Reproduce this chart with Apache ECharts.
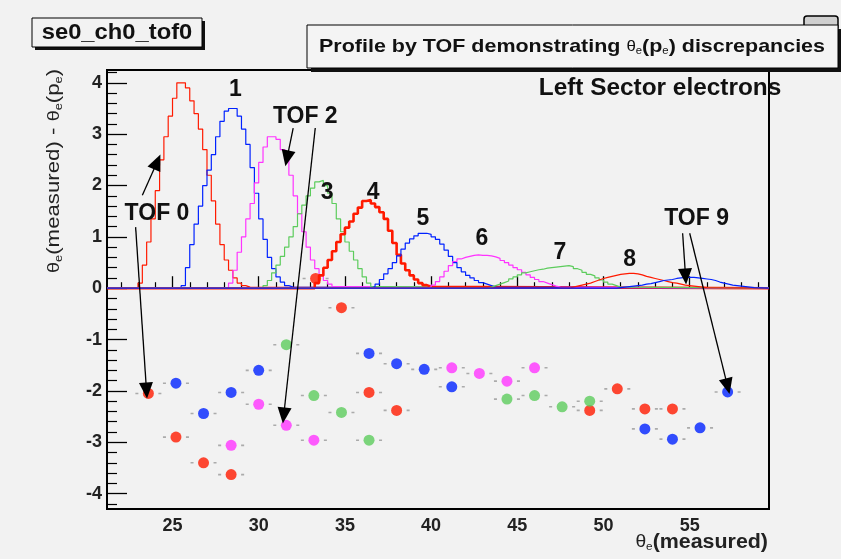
<!DOCTYPE html>
<html>
<head>
<meta charset="utf-8">
<script src="https://cdn.jsdelivr.net/npm/echarts@6/dist/echarts.min.js"></script>
<style>
  html, body { margin: 0; padding: 0; background: #f2f2f2; }
  #chart { width: 841px; height: 559px; }
</style>
</head>
<body>
<div id="chart"></div>
<script>
// axis ticks
const xTicks = [25, 30, 35, 40, 45, 50, 55];
const yTicks = [-4, -3, -2, -1, 0, 1, 2, 3, 4];

// profile histograms, bin width 0.25
const binWidth = 0.25;
const profileStarts = [23.0, 25.5, 28.25, 30.25, 33.25, 36.5, 39.75, 43.25, 48.0, 50.75];
const tof0 = [0.1, 0.45, 0.9, 1.35, 1.9, 2.5, 2.95, 3.35, 3.7, 4.0, 4.0, 3.9, 3.65, 3.4, 3.1, 2.7, 2.2, 1.7, 1.25, 0.85, 0.55, 0.35, 0.2, 0.1, 0.05, 0.02];
const tof1 = [0.05, 0.4, 0.85, 1.25, 1.6, 2.0, 2.3, 2.6, 2.95, 3.25, 3.45, 3.5, 3.5, 3.35, 3.1, 2.8, 2.35, 1.85, 1.35, 0.95, 0.6, 0.38, 0.22, 0.12, 0.05, 0.02];
const tof2 = [0.1, 0.35, 0.7, 1.0, 1.35, 1.65, 2.05, 2.45, 2.75, 2.95, 2.95, 2.9, 2.7, 2.5, 2.2, 1.8, 1.45, 1.1, 0.8, 0.55, 0.38, 0.25, 0.15, 0.08, 0.03];
const tof3 = [0.05, 0.15, 0.3, 0.45, 0.62, 0.8, 1.0, 1.2, 1.45, 1.62, 1.8, 1.95, 2.07, 2.1, 2.0, 1.85, 1.65, 1.35, 1.1, 0.9, 0.72, 0.55, 0.38, 0.22, 0.1, 0.03];
const tof4 = [0.1, 0.25, 0.4, 0.55, 0.72, 0.9, 1.05, 1.18, 1.3, 1.45, 1.57, 1.7, 1.72, 1.65, 1.58, 1.48, 1.35, 1.12, 0.88, 0.65, 0.48, 0.35, 0.25, 0.17, 0.1, 0.06, 0.03];
const tof5 = [0.03, 0.08, 0.17, 0.28, 0.38, 0.5, 0.63, 0.76, 0.88, 0.96, 1.02, 1.07, 1.07, 1.05, 1.0, 0.95, 0.86, 0.74, 0.62, 0.5, 0.4, 0.32, 0.25, 0.2, 0.15, 0.11, 0.08, 0.05, 0.02];
const tof6 = [0.02, 0.06, 0.13, 0.22, 0.33, 0.44, 0.52, 0.57, 0.6, 0.62, 0.64, 0.65, 0.64, 0.64, 0.63, 0.61, 0.58, 0.54, 0.5, 0.45, 0.4, 0.36, 0.31, 0.26, 0.21, 0.17, 0.13, 0.1, 0.07, 0.04, 0.02];
const tof7 = [0.02, 0.05, 0.08, 0.11, 0.14, 0.18, 0.22, 0.26, 0.3, 0.32, 0.34, 0.36, 0.37, 0.39, 0.4, 0.41, 0.42, 0.43, 0.44, 0.42, 0.38, 0.35, 0.31, 0.27, 0.24, 0.2, 0.16, 0.12, 0.08, 0.05, 0.02];
const tof8 = [0.02, 0.04, 0.06, 0.08, 0.1, 0.13, 0.16, 0.19, 0.21, 0.23, 0.25, 0.27, 0.28, 0.29, 0.29, 0.28, 0.26, 0.23, 0.21, 0.19, 0.17, 0.15, 0.13, 0.11, 0.1, 0.08, 0.06, 0.05, 0.04, 0.03, 0.02, 0.01];
const tof9 = [0.01, 0.02, 0.03, 0.04, 0.05, 0.06, 0.08, 0.09, 0.11, 0.13, 0.15, 0.16, 0.17, 0.19, 0.2, 0.21, 0.21, 0.21, 0.2, 0.19, 0.18, 0.17, 0.15, 0.12, 0.1, 0.08, 0.06, 0.05, 0.04, 0.03, 0.02, 0.01];
const profiles = [tof0, tof1, tof2, tof3, tof4, tof5, tof6, tof7, tof8, tof9];

// discrepancy points [theta measured, delta]
const redPoints = [[23.6, -2.05], [25.2, -2.9], [26.8, -3.4], [28.4, -3.63], [33.3, 0.19], [34.8, -0.38], [36.4, -2.03], [38.0, -2.38], [49.2, -2.38], [50.8, -1.96], [52.4, -2.35], [54.0, -2.35]];
const bluePoints = [[25.2, -1.85], [26.8, -2.44], [28.4, -2.03], [30.0, -1.6], [36.4, -1.27], [38.0, -1.47], [39.6, -1.58], [41.2, -1.92], [52.4, -2.74], [54.0, -2.94], [55.6, -2.72], [57.2, -2.02]];
const magentaPoints = [[28.4, -3.06], [30.0, -2.26], [31.6, -2.67], [33.2, -2.96], [41.2, -1.55], [42.8, -1.66], [44.4, -1.81], [46.0, -1.55]];
const greenPoints = [[31.6, -1.1], [33.2, -2.09], [34.8, -2.42], [36.4, -2.96], [44.4, -2.16], [46.0, -2.09], [47.6, -2.31], [49.2, -2.2]];

// annotations
const noteLabels = [['TOF 0', 24.1, 1.46], ['1', 28.65, 3.86], ['TOF 2', 32.7, 3.35], ['3', 33.97, 1.87], ['4', 36.64, 1.87],
  ['5', 39.53, 1.36], ['6', 42.95, 0.96], ['7', 47.47, 0.7], ['8', 51.52, 0.55], ['TOF 9', 55.4, 1.35]];
const noteArrows = [[23.25, 1.81, 24.11, 2.46], [22.86, 1.19, 23.49, -1.99], [32.0, 3.12, 31.64, 2.53], [33.28, 3.12, 31.45, -2.48],
  [54.59, 1.07, 54.76, 0.23], [55.0, 1.07, 57.2, -1.91]];

const xMin = 21.2, xMax = 59.6;
const colors = ['#ff1a00', '#0022ff', '#ff33ff', '#5ccc5c'];
const font = '"Liberation Sans", Arial, sans-serif';

const xMinor = [];
for (let v = 22; v <= 59; v++) if (v % 5) xMinor.push(v);
const yMinor = [];
for (let k = -21; k <= 21; k++) if (k % 5) yMinor.push(k / 5);

function histLine(vals, start) {
  const pts = [[xMin, 0]];
  vals.forEach((v, i) => pts.push([start + i * binWidth, v]));
  pts.push([start + vals.length * binWidth, 0]);
  pts.push([xMax, 0]);
  return pts;
}

const series = profiles.map((vals, i) => ({
  type: 'line',
  step: 'end',
  data: histLine(vals, profileStarts[i]),
  showSymbol: false,
  silent: true,
  lineStyle: { color: colors[i % 4], width: i === 4 ? 2.6 : 1.2 },
  z: 2
}));

const pointSets = [redPoints, bluePoints, magentaPoints, greenPoints];
pointSets.forEach(pts => {
  series.push({
    type: 'scatter',
    data: pts,
    symbol: 'path://M0,0h3v2h-3z M23,0h3v2h-3z',
    symbolSize: [26, 1.6],
    itemStyle: { color: '#999' },
    silent: true,
    z: 3
  });
});
pointSets.forEach((pts, i) => {
  series.push({
    type: 'scatter',
    data: pts,
    symbolSize: 11,
    itemStyle: { color: colors[i] },
    silent: true,
    z: 4
  });
});

series.push({
  type: 'scatter',
  data: [],
  silent: true,
  z: 5,
  markLine: {
    silent: true,
    animation: false,
    symbol: ['none', 'triangle'],
    symbolSize: [14, 16],
    label: { show: false },
    lineStyle: { color: '#000', width: 1.3, type: 'solid' },
    data: noteArrows.map(a => [{ coord: [a[0], a[1]] }, { coord: [a[2], a[3]] }])
  },
  markPoint: {
    silent: true,
    animation: false,
    symbolSize: 0,
    label: {
      show: true, position: 'inside', formatter: p => p.name,
      color: '#111', fontSize: 23, fontWeight: 'bold', fontFamily: font
    },
    data: noteLabels.map(n => ({ name: n[0], coord: [n[1], n[2]] }))
  }
});

const chart = echarts.init(document.getElementById('chart'));
chart.setOption({
  backgroundColor: '#f2f2f2',
  animation: false,
  grid: { left: 107, right: 72, top: 70, bottom: 50, show: true, borderColor: '#000', borderWidth: 2, backgroundColor: 'transparent' },
  xAxis: [{
    type: 'value', min: xMin, max: xMax,
    axisLine: { show: false },
    splitLine: { show: false },
    axisTick: { inside: true, length: 12, customValues: xTicks, lineStyle: { color: '#000', width: 1.3 } },
    axisLabel: { customValues: xTicks, margin: 8, fontSize: 18, fontWeight: 'bold', color: '#222', fontFamily: font }
  }, {
    type: 'value', min: xMin, max: xMax, position: 'bottom',
    axisLine: { show: false },
    splitLine: { show: false },
    axisTick: { inside: true, length: 6, customValues: xMinor, lineStyle: { color: '#000', width: 1.2 } },
    axisLabel: { show: false }
  }],
  yAxis: [{
    type: 'value', min: -4.3, max: 4.25,
    axisLine: { show: false },
    splitLine: { show: false },
    axisTick: { inside: true, length: 20, customValues: yTicks, lineStyle: { color: '#000', width: 1.3 } },
    axisLabel: { customValues: yTicks, margin: 5, fontSize: 18, fontWeight: 'bold', color: '#222', fontFamily: font }
  }, {
    type: 'value', min: -4.3, max: 4.25, position: 'left',
    axisLine: { show: false },
    splitLine: { show: false },
    axisTick: { inside: true, length: 10, customValues: yMinor, lineStyle: { color: '#000', width: 1.2 } },
    axisLabel: { show: false }
  }],
  graphic: [
    // stat box corner peeking behind the title
    { type: 'rect', shape: { x: 804, y: 16, width: 34, height: 12, r: [3, 3, 0, 0] }, style: { fill: '#cfcfcf', stroke: '#000', lineWidth: 1.5 }, z: 10 },
    // name box
    { type: 'rect', shape: { x: 35, y: 21, width: 170, height: 29 }, style: { fill: '#111' }, z: 10 },
    { type: 'rect', shape: { x: 32, y: 18, width: 170, height: 29 }, style: { fill: '#f2f2f2', stroke: '#000', lineWidth: 1 }, z: 11 },
    { type: 'text', x: 117, y: 33, scaleX: 1.08, style: { text: 'se0_ch0_tof0', font: 'bold 22px ' + font, fill: '#111', textAlign: 'center', textVerticalAlign: 'middle' }, z: 12 },
    // title box
    { type: 'rect', shape: { x: 311, y: 29, width: 530, height: 43 }, style: { fill: '#111' }, z: 10 },
    { type: 'rect', shape: { x: 307, y: 25, width: 531, height: 43 }, style: { fill: '#f4f4f4', stroke: '#000', lineWidth: 1 }, z: 11 },
    {
      type: 'text', x: 572, y: 47, scaleX: 1.13, z: 12,
      style: {
        text: 'Profile by TOF demonstrating {t|θ}{s|e}(p{s|e}) discrepancies',
        font: 'bold 19px ' + font, fill: '#111', textAlign: 'center', textVerticalAlign: 'middle',
        rich: {
          t: { fontSize: 15, fontFamily: font, color: '#555' },
          s: { fontSize: 10, fontFamily: font, color: '#444', verticalAlign: 'bottom', padding: [9, 0, 0, 0] }
        }
      }
    },
    { type: 'text', x: 660, y: 89, scaleX: 1.06, style: { text: 'Left Sector electrons', font: 'bold 23px ' + font, fill: '#111', textAlign: 'center', textVerticalAlign: 'middle' }, z: 12 },
    // axis titles
    {
      type: 'text', x: 54, y: 273, rotation: Math.PI / 2, scaleX: 1.17, z: 12,
      style: {
        text: '{b|θ}{s|e}(measured) - {b|θ}{s|e}(p{s|e})',
        font: '19px ' + font, fill: '#222', textAlign: 'left', textVerticalAlign: 'middle',
        rich: {
          b: { fontSize: 17, fontFamily: font, color: '#555' },
          s: { fontSize: 11, fontFamily: font, color: '#333', verticalAlign: 'bottom', padding: [10, 0, 0, 0] }
        }
      }
    },
    {
      type: 'text', x: 768, y: 542, scaleX: 1.07, z: 12,
      style: {
        text: '{b|θ}{s|e}(measured)',
        font: 'bold 20px ' + font, fill: '#222', textAlign: 'right', textVerticalAlign: 'middle',
        rich: {
          b: { fontSize: 18, fontFamily: font, color: '#666' },
          s: { fontSize: 11, fontFamily: font, color: '#444', verticalAlign: 'bottom', padding: [10, 0, 0, 0] }
        }
      }
    }
  ],
  series: series
});
</script>
</body>
</html>
